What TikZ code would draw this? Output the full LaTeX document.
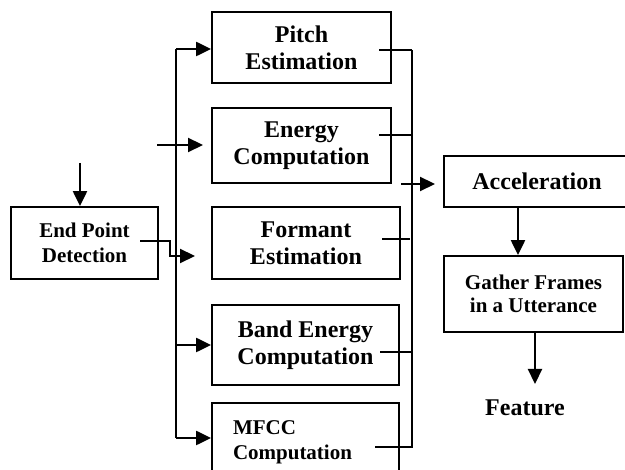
\documentclass[tikz,border=0pt]{standalone}
\usepackage{fontspec}
\setmainfont{Liberation Serif}
\usepackage{tikz}
\usetikzlibrary{arrows.meta, positioning, calc}

\begin{document}
\begin{tikzpicture}[
  x=1pt, y=-1pt,
  blk/.style={draw, line width=1.8pt, inner sep=0pt, align=center, font=\bfseries\fontsize{24}{27}\selectfont},
  sblk/.style={draw, line width=1.8pt, inner sep=0pt, align=center, font=\bfseries\fontsize{21}{25}\selectfont},
  arr/.style={-{Triangle[length=15pt, width=14pt]}, line width=2.2pt},
  ln/.style={line width=1.8pt}
]
\useasboundingbox (0,0) rectangle (625,470);

% blocks
\node[sblk, minimum width=147, minimum height=72] (endpt) at (84.5,243) {End Point\\Detection};
\node[blk, minimum width=179, minimum height=71] (pitch) at (301.5,47.5) {Pitch\\Estimation};
\node[blk, minimum width=179, minimum height=75] (energy) at (301.5,145.5) {Energy\\Computation};
\node[blk, minimum width=188, minimum height=72] (formant) at (306,243) {Formant\\Estimation};
\node[blk, minimum width=187, minimum height=80] (band) at (305.5,345) {Band Energy\\Computation};
\node[sblk, align=left, inner xsep=21pt, text width=145, minimum height=78] (mfcc) at (305.5,442) {MFCC\\Computation};
\node[blk, minimum width=186, minimum height=51] (accel) at (537,181.5) {Acceleration};
\node[sblk, font=\bfseries\fontsize{21}{23}\selectfont, minimum width=179, minimum height=76] (gather) at (533.5,294) {Gather Frames\\in a Utterance};
\node[font=\bfseries\fontsize{24}{27}\selectfont] (feat) at (525,408) {Feature};

% input side
\coordinate (epin) at (80,163);
\coordinate (bustop) at (176,49);
\coordinate (busbot) at (176,438);
\coordinate (ein) at (157,145);
\coordinate (eout) at (203,145);
\coordinate (fout) at (140,241);
\coordinate (fin) at (195,256);

\draw[arr] (epin) -- (epin |- endpt.north);
\draw[ln] (bustop) -- (busbot);
\draw[arr] (bustop) -- (bustop -| pitch.west);
\draw[arr] (ein) -- (eout);
\draw[arr] (fout) -- (170,241) -- (170,256) -- (fin);
\draw[arr] (busbot |- band.west) -- (band.west);
\draw[arr] (busbot) -- (busbot -| mfcc.west);

% output side
\coordinate (rtop) at (412,50);
\coordinate (rbot) at (412,448);
\coordinate (ain) at (401,184);
\coordinate (aout) at (435,184);

\draw[ln] (rtop) -- (rbot);
\draw[ln] (379,50) -- (rtop);
\draw[ln] (379,135) -- (rtop |- 0,135);
\draw[ln] (382,239) -- (410,239);
\draw[ln] (380,352) -- (rtop |- 0,352);
\draw[ln] (375,447) -- (rtop |- 0,447);
\draw[arr] (ain) -- (aout);
\draw[arr] (accel.south -| 518,0) -- (gather.north -| 518,0);
\draw[arr] (gather.south -| 535,0) -- (535,384);
\end{tikzpicture}
\end{document}
